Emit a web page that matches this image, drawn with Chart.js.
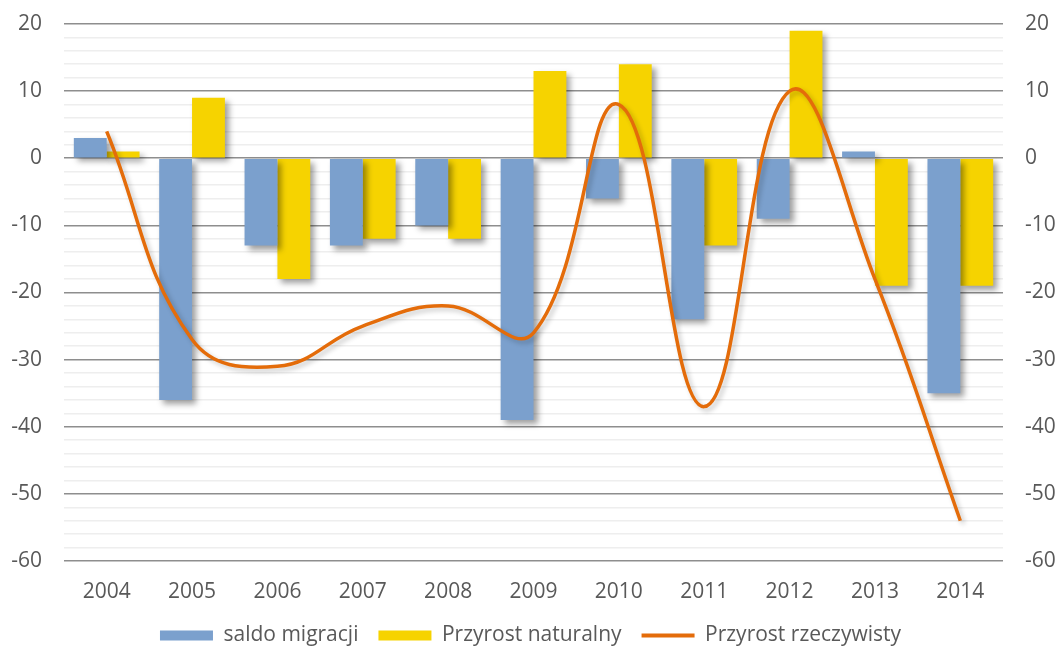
<!DOCTYPE html>
<html>
<head>
<meta charset="utf-8">
<script src="https://cdn.jsdelivr.net/npm/chart.js@4/dist/chart.umd.min.js"></script>
<style>
  html, body { margin: 0; padding: 0; background: #fff; }
  #wrap { width: 1061px; height: 648px; }
</style>
</head>
<body>
<div id="wrap"><canvas id="wykres"></canvas></div>
<script>
const lata = ['2004', '2005', '2006', '2007', '2008', '2009', '2010', '2011', '2012', '2013', '2014'];
const saldoMigracji = [3, -36, -13, -13, -10, -39, -6, -24, -9, 1, -35];
const przyrostNaturalny = [1, 9, -18, -12, -12, 13, 14, -13, 19, -19, -19];
const przyrostRzeczywisty = [4, -27, -31, -25, -22, -26, 8, -37, 10, -18, -54];

const NIEBIESKI = '#7BA0CD';
const ZOLTY = '#F6D300';
const POMARANCZ = '#E46C0A';
const TEKST = '#595959';
const FONT = { family: 'Open Sans', size: 21 };

// cień pod słupkami i linią
const cien = {
  id: 'cien',
  beforeDatasetDraw(chart, args) {
    const ctx = chart.ctx;
    ctx.save();
    if (args.meta.type === 'bar') {
      ctx.shadowColor = 'rgba(0,0,0,0.38)';
      ctx.shadowBlur = 6;
      ctx.shadowOffsetX = 4;
      ctx.shadowOffsetY = 4;
    } else {
      ctx.shadowColor = 'rgba(0,0,0,0.22)';
      ctx.shadowBlur = 5;
      ctx.shadowOffsetX = 3;
      ctx.shadowOffsetY = 3;
    }
  },
  afterDatasetDraw(chart) {
    chart.ctx.restore();
  }
};

const siatka = (ctx) => ctx.tick && ctx.tick.value % 10 === 0 ? '#8E8E8E' : '#EEEEEE';
const etykieta = (v) => v % 10 === 0 ? String(v) : '';
const osY = (szer) => (s) => {
  s.width = szer;
  s.paddingTop = 0;
  s.paddingBottom = 0;
};

new Chart(document.getElementById('wykres'), {
  data: {
    labels: lata,
    datasets: [
      { type: 'bar', label: 'saldo migracji', data: saldoMigracji, backgroundColor: NIEBIESKI, order: 1 },
      { type: 'bar', label: 'Przyrost naturalny', data: przyrostNaturalny, backgroundColor: ZOLTY, order: 1 },
      { type: 'line', label: 'Przyrost rzeczywisty', data: przyrostRzeczywisty, borderColor: POMARANCZ, backgroundColor: POMARANCZ,
        borderWidth: 3.5, pointRadius: 0, tension: 0.42, fill: false, order: 0 }
    ]
  },
  options: {
    responsive: true,
    maintainAspectRatio: false,
    animation: false,
    layout: { padding: { top: 24, bottom: -8, left: 0, right: 0 } },
    datasets: { bar: { categoryPercentage: 0.77, barPercentage: 1 } },
    scales: {
      x: {
        grid: { display: false },
        border: { display: false },
        ticks: { color: TEKST, font: FONT, padding: 10 },
        afterFit: (s) => { s.height = 44; }
      },
      y: {
        position: 'left',
        min: -60, max: 20,
        border: { display: false },
        grid: { color: siatka, lineWidth: 1.6, drawTicks: false },
        ticks: { stepSize: 2, callback: etykieta, color: TEKST, font: FONT, padding: 22, autoSkip: false },
        afterFit: osY(64)
      },
      y2: {
        position: 'right',
        min: -60, max: 20,
        border: { display: false },
        grid: { display: false, drawTicks: false },
        ticks: { stepSize: 2, callback: etykieta, color: TEKST, font: FONT, padding: 22, autoSkip: false },
        afterFit: osY(58)
      }
    },
    plugins: {
      tooltip: { enabled: false },
      legend: {
        position: 'bottom',
        labels: {
          color: TEKST,
          font: FONT,
          usePointStyle: true,
          pointStyleWidth: 53,
          boxHeight: 10,
          padding: 20,
          generateLabels(chart) {
            const items = Chart.defaults.plugins.legend.labels.generateLabels(chart);
            items.sort((a, b) => a.datasetIndex - b.datasetIndex);
            return items.map((it) => {
              if (it.datasetIndex === 2) {
                it.pointStyle = 'line';
                it.strokeStyle = POMARANCZ;
                it.lineWidth = 4;
              } else {
                it.pointStyle = 'rect';
                it.lineWidth = 0;
              }
              return it;
            });
          }
        }
      }
    }
  },
  plugins: [cien]
});
</script>
</body>
</html>
